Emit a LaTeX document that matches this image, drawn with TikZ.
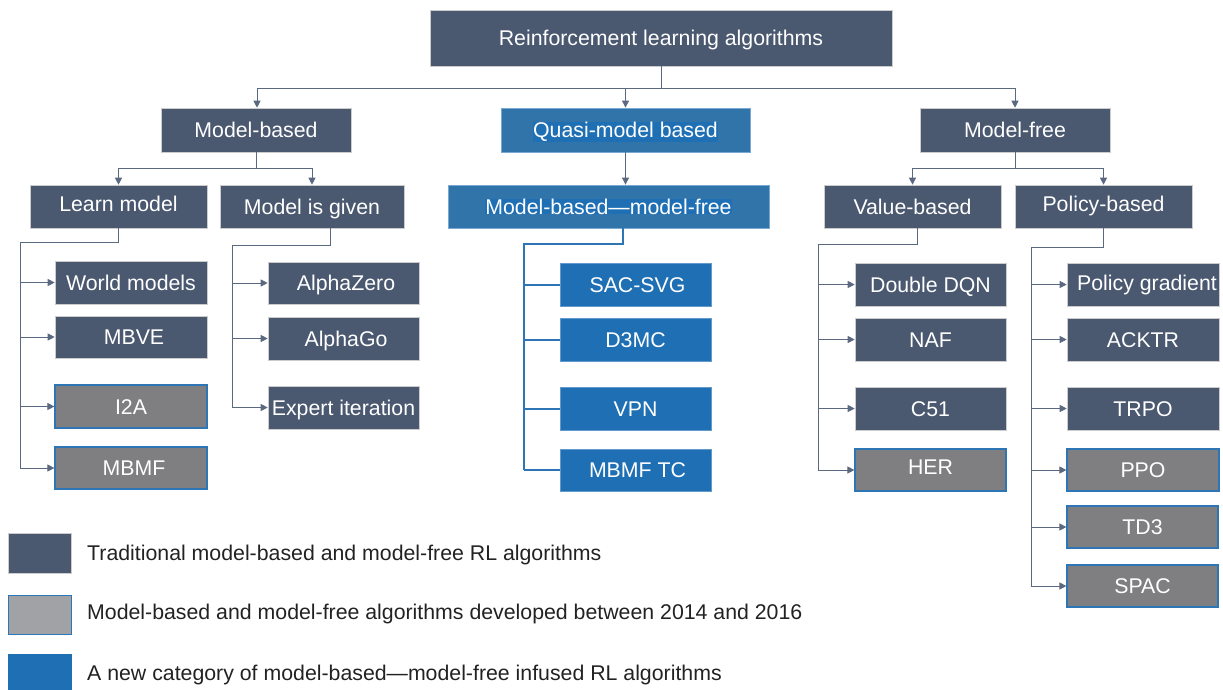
\documentclass[tikz,border=0pt]{standalone}
\usepackage{fontspec}
\setmainfont{Liberation Sans}
\usetikzlibrary{arrows.meta}
\definecolor{dk}{RGB}{74,88,112}
\definecolor{gr}{RGB}{127,127,129}
\definecolor{bl}{RGB}{31,111,180}
\definecolor{blq}{RGB}{49,116,170}
\definecolor{bord}{RGB}{46,117,182}
\definecolor{lnk}{RGB}{90,104,128}
\definecolor{lgr}{RGB}{160,162,166}
\definecolor{txt}{RGB}{34,34,34}
\begin{document}
\begin{tikzpicture}[x=1pt,y=-1pt,
  font=\fontsize{21.3}{24}\selectfont,
  box/.style={inner sep=0pt, text=white, anchor=center, text height=15pt, text depth=0pt},
  dkbox/.style={box, fill=dk, draw=gray!40, line width=0.6pt},
  grbox/.style={box, fill=gr, draw=bord, line width=1.2pt},
  blbox/.style={box, fill=bl, draw=bl!70!white, line width=0.6pt},
  qbox/.style={box, fill=blq, draw=bl!60!white, line width=0.8pt},
  conn/.style={draw=lnk, line width=0.9pt},
  arr/.style={conn, -{Triangle[width=7pt,length=7pt]}},
  bconn/.style={draw=bord, line width=2pt},
  legtxt/.style={anchor=base west, text=txt, inner sep=0pt}
]
\useasboundingbox (0,0) rectangle (1223,689);
% top level
\node[dkbox, minimum width=462, minimum height=56] (root) at (661,38) {Reinforcement learning algorithms};
\node[dkbox, minimum width=190, minimum height=44] (mb) at (256,130) {Model-based};
\node[qbox, minimum width=249, minimum height=44] (qm) at (625.5,130) {{\setlength{\fboxsep}{0pt}\colorbox{bl}{Quasi-model based}}};
\node[dkbox, minimum width=190, minimum height=44] (mf) at (1015,130) {Model-free};
% second level
\node[dkbox, minimum width=177, minimum height=43] (lm) at (118.5,206.5) {\raisebox{3pt}{Learn model}};
\node[dkbox, minimum width=184, minimum height=43] (mg) at (312,206.5) {Model is given};
\node[qbox, minimum width=321, minimum height=43] (mm) at (608.5,206.5) {{\setlength{\fboxsep}{0pt}\colorbox{bl}{Model-based---model-free}}};
\node[dkbox, minimum width=177, minimum height=43] (vb) at (912.5,206.5) {Value-based};
\node[dkbox, minimum width=177, minimum height=43] (pb) at (1103.5,206.5) {\raisebox{3pt}{Policy-based}};
% learn model leaves
\node[dkbox, minimum width=152, minimum height=43] (wm) at (131,282.5) {World models};
\node[dkbox, minimum width=152, minimum height=42] (mbve) at (131,337) {\hspace{6pt}MBVE};
\node[grbox, minimum width=152, minimum height=43] (i2a) at (131,406.5) {I2A};
\node[grbox, minimum width=152, minimum height=42] (mbmf) at (131,468) {\hspace{6pt}MBMF};
% model is given leaves
\node[dkbox, minimum width=151, minimum height=42] (az) at (343.5,283) {\hspace{5pt}AlphaZero};
\node[dkbox, minimum width=151, minimum height=43] (ag) at (343.5,338.5) {\hspace{5pt}AlphaGo};
\node[dkbox, minimum width=151, minimum height=43] (ei) at (343.5,407.5) {Expert iteration};
% quasi leaves
\node[blbox, minimum width=151, minimum height=43] (sac) at (635.5,284.5) {\hspace{4pt}SAC-SVG};
\node[blbox, minimum width=151, minimum height=43] (d3) at (635.5,339.5) {D3MC};
\node[blbox, minimum width=151, minimum height=43] (vpn) at (635.5,408.5) {VPN};
\node[blbox, minimum width=151, minimum height=42] (mtc) at (635.5,470) {\hspace{4pt}MBMF TC};
% value leaves
\node[dkbox, minimum width=151, minimum height=43] (ddqn) at (930.5,284.5) {Double DQN};
\node[dkbox, minimum width=151, minimum height=43] (naf) at (930.5,339.5) {NAF};
\node[dkbox, minimum width=151, minimum height=43] (c51) at (930.5,408.5) {C51};
\node[grbox, minimum width=151, minimum height=42] (her) at (930.5,470) {\raisebox{3pt}{HER}};
% policy leaves
\node[dkbox, minimum width=152, minimum height=43] (pg) at (1143,284.5) {\raisebox{2pt}{\hspace{8pt}Policy gradient}};
\node[dkbox, minimum width=152, minimum height=43] (ack) at (1143,339.5) {ACKTR};
\node[dkbox, minimum width=152, minimum height=43] (trpo) at (1143,408.5) {TRPO};
\node[grbox, minimum width=152, minimum height=42] (ppo) at (1143,470) {PPO};
\node[grbox, minimum width=151, minimum height=42] (td3) at (1142.5,527) {TD3};
\node[grbox, minimum width=151, minimum height=42] (spac) at (1142.5,586) {SPAC};
% legend
\node[fill=dk, draw=gray!40, line width=0.6pt, minimum width=63, minimum height=40, inner sep=0pt] (lg1) at (40,553) {};
\node[fill=lgr, draw=bord, line width=1pt, minimum width=63, minimum height=39, inner sep=0pt] (lg2) at (40,614.5) {};
\node[fill=bl, minimum width=64, minimum height=36, inner sep=0pt] (lg3) at (40,672) {};
\node[legtxt] (lt1) at (87,560.5) {Traditional model-based and model-free RL algorithms};
\node[legtxt] (lt2) at (87,619.5) {Model-based and model-free algorithms developed between 2014 and 2016};
\node[legtxt] (lt3) at (87,680.5) {A new category of model-based---model-free infused RL algorithms};
% top connectors
\coordinate (rj) at (661,88);
\draw[conn] (root.south) -- (rj);
\draw[conn] ([xshift=1pt]rj -| mb.north) -- (rj -| mf.north);
\draw[arr] ([xshift=1pt]rj -| mb.north) -- ([xshift=1pt]mb.north);
\draw[arr] (rj -| qm.north) -- (qm.north);
\draw[arr] (rj -| mf.north) -- (mf.north);
% model-based split
\coordinate (mbj) at (256,168);
\draw[conn] (mb.south) -- (mbj);
\draw[conn] (mbj -| lm.north) -- (mbj -| mg.north);
\draw[arr] (mbj -| lm.north) -- (lm.north);
\draw[arr] (mbj -| mg.north) -- (mg.north);
% quasi
\draw[arr] (qm.south) -- (qm.south |- mm.north);
% model-free split
\coordinate (mfj) at (1015,168);
\draw[conn] (mf.south) -- (mfj);
\draw[conn] (mfj -| vb.north) -- (mfj -| pb.north);
\draw[arr] (mfj -| vb.north) -- (vb.north);
\draw[arr] (mfj -| pb.north) -- (pb.north);
% learn model trunk
\coordinate (tl) at (20,242);
\draw[conn] (lm.south) |- (tl) -- (tl |- mbmf.west);
\foreach \n in {wm,mbve,i2a,mbmf} \draw[arr] (tl |- \n.west) -- (\n.west);
% model given trunk
\coordinate (tg) at (232,245);
\draw[conn] ([xshift=18pt]mg.south) |- (tg) -- (tg |- ei.west);
\foreach \n in {az,ag,ei} \draw[arr] (tg |- \n.west) -- (\n.west);
% quasi trunk
\coordinate (tq) at (524,244);
\draw[bconn] ([xshift=14.5pt]mm.south) |- (tq) -- (tq |- mtc.west);
\foreach \n in {sac,d3,vpn,mtc} \draw[bconn] (tq |- \n.west) -- (\n.west);
% value trunk
\coordinate (tv) at (818,244);
\draw[conn] ([xshift=4.5pt]vb.south) |- (tv) -- (tv |- her.west);
\foreach \n in {ddqn,naf,c51,her} \draw[arr] (tv |- \n.west) -- (\n.west);
% policy trunk
\coordinate (tp) at (1031,247);
\draw[conn] (pb.south) |- (tp) -- (tp |- spac.west);
\foreach \n in {pg,ack,trpo,ppo,td3,spac} \draw[arr] (tp |- \n.west) -- (\n.west);
\end{tikzpicture}
\end{document}
